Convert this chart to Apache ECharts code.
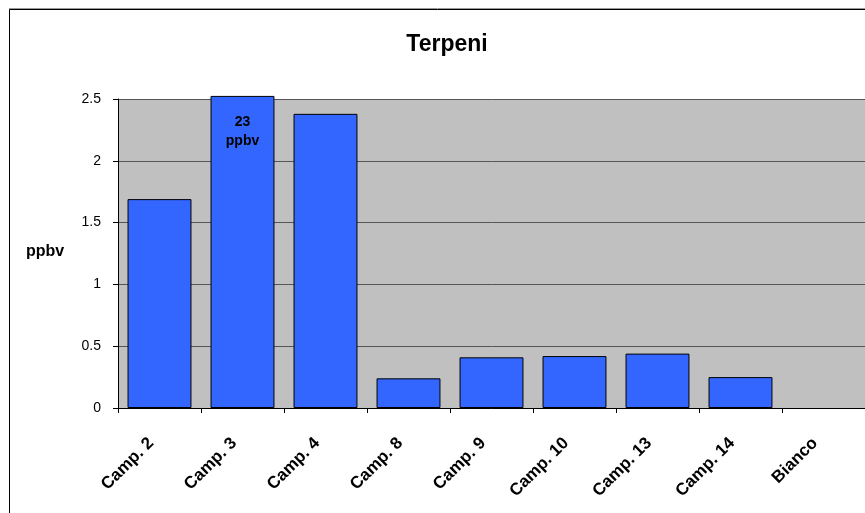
<!DOCTYPE html>
<html>
<head>
<meta charset="utf-8">
<script src="https://cdn.jsdelivr.net/npm/echarts@6/dist/echarts.min.js"></script>
<style>
html,body{margin:0;padding:0;background:#fff;}
#c{width:865px;height:513px;}
</style>
</head>
<body>
<div id="c"></div>
<script>
var categories = ['Camp. 2','Camp. 3','Camp. 4','Camp. 8','Camp. 9','Camp. 10','Camp. 13','Camp. 14','Bianco'];
var values = [1.69, 23, 2.38, 0.24, 0.41, 0.42, 0.44, 0.25, 0];
var yTicks = [0, 0.5, 1, 1.5, 2, 2.5];
var yMax = 2.5;
var overflowLabel = '23\nppbv';

var chart = echarts.init(document.getElementById('c'), null, {renderer:'canvas'});
var font = 'Arial, "Liberation Sans", sans-serif';

var barData = values.map(function(v){
  if (v > yMax) {
    return {
      value: yMax + 0.025,
      label: {
        show: true, position: 'insideTop', distance: 17,
        formatter: overflowLabel,
        color: '#000', fontFamily: font, fontWeight: 'bold', fontSize: 14, lineHeight: 19
      }
    };
  }
  if (v === 0) {
    return {value: v, itemStyle: {borderWidth: 0}};
  }
  return v;
});

chart.setOption({
  animation: false,
  backgroundColor: '#fff',
  title: {
    text: 'Terpeni', left: 442, top: 28, textAlign: 'center',
    textStyle: {fontFamily: font, fontWeight: 'bold', fontSize: 23, color: '#000'}
  },
  graphic: [
    {type:'line', shape:{x1:9, y1:8.5, x2:900, y2:8.5}, style:{stroke:'#999', lineWidth:1}, z:-1},
    {type:'rect', shape:{x:9.5, y:9.5, width:900, height:520}, style:{fill:'none', stroke:'#000', lineWidth:1}, z:-1},
    {type:'text', left: 26, top: 244, style:{text:'ppbv', font:'bold 16px ' + font, fill:'#000'}}
  ],
  grid: {left: 118, top: 99, width: 748, height: 309, backgroundColor:'#C0C0C0', show: true, borderWidth: 0},
  xAxis: {
    type: 'category', data: categories,
    axisLine: {show: true, lineStyle:{color:'#000', width:1}},
    axisTick: {show: true, alignWithLabel: false, length: 5, lineStyle:{color:'#000'}},
    axisLabel: {rotate: 45, margin: 24, padding: [0, 12, 0, 0], interval: 0, fontFamily: font, fontWeight:'bold', fontSize: 17, color:'#000'},
    splitLine: {show:false}
  },
  yAxis: {
    type: 'value', min: 0, max: yMax, interval: 0.5,
    axisLine: {show: true, lineStyle:{color:'#000', width:1}},
    axisTick: {show: true, length: 5, lineStyle:{color:'#000'}},
    axisLabel: {margin: 17, fontFamily: font, fontSize: 14, color:'#000',
      formatter: function(v){ return yTicks.indexOf(v) >= 0 ? String(v) : ''; }},
    splitLine: {show: true, lineStyle:{color:'#555', width:1}}
  },
  series: [{
    type: 'bar', data: barData, barCategoryGap: '23%', clip: false,
    itemStyle: {color:'#3366FF', borderColor:'#000', borderWidth:1},
    label: {show: false}
  }]
});
</script>
</body>
</html>
